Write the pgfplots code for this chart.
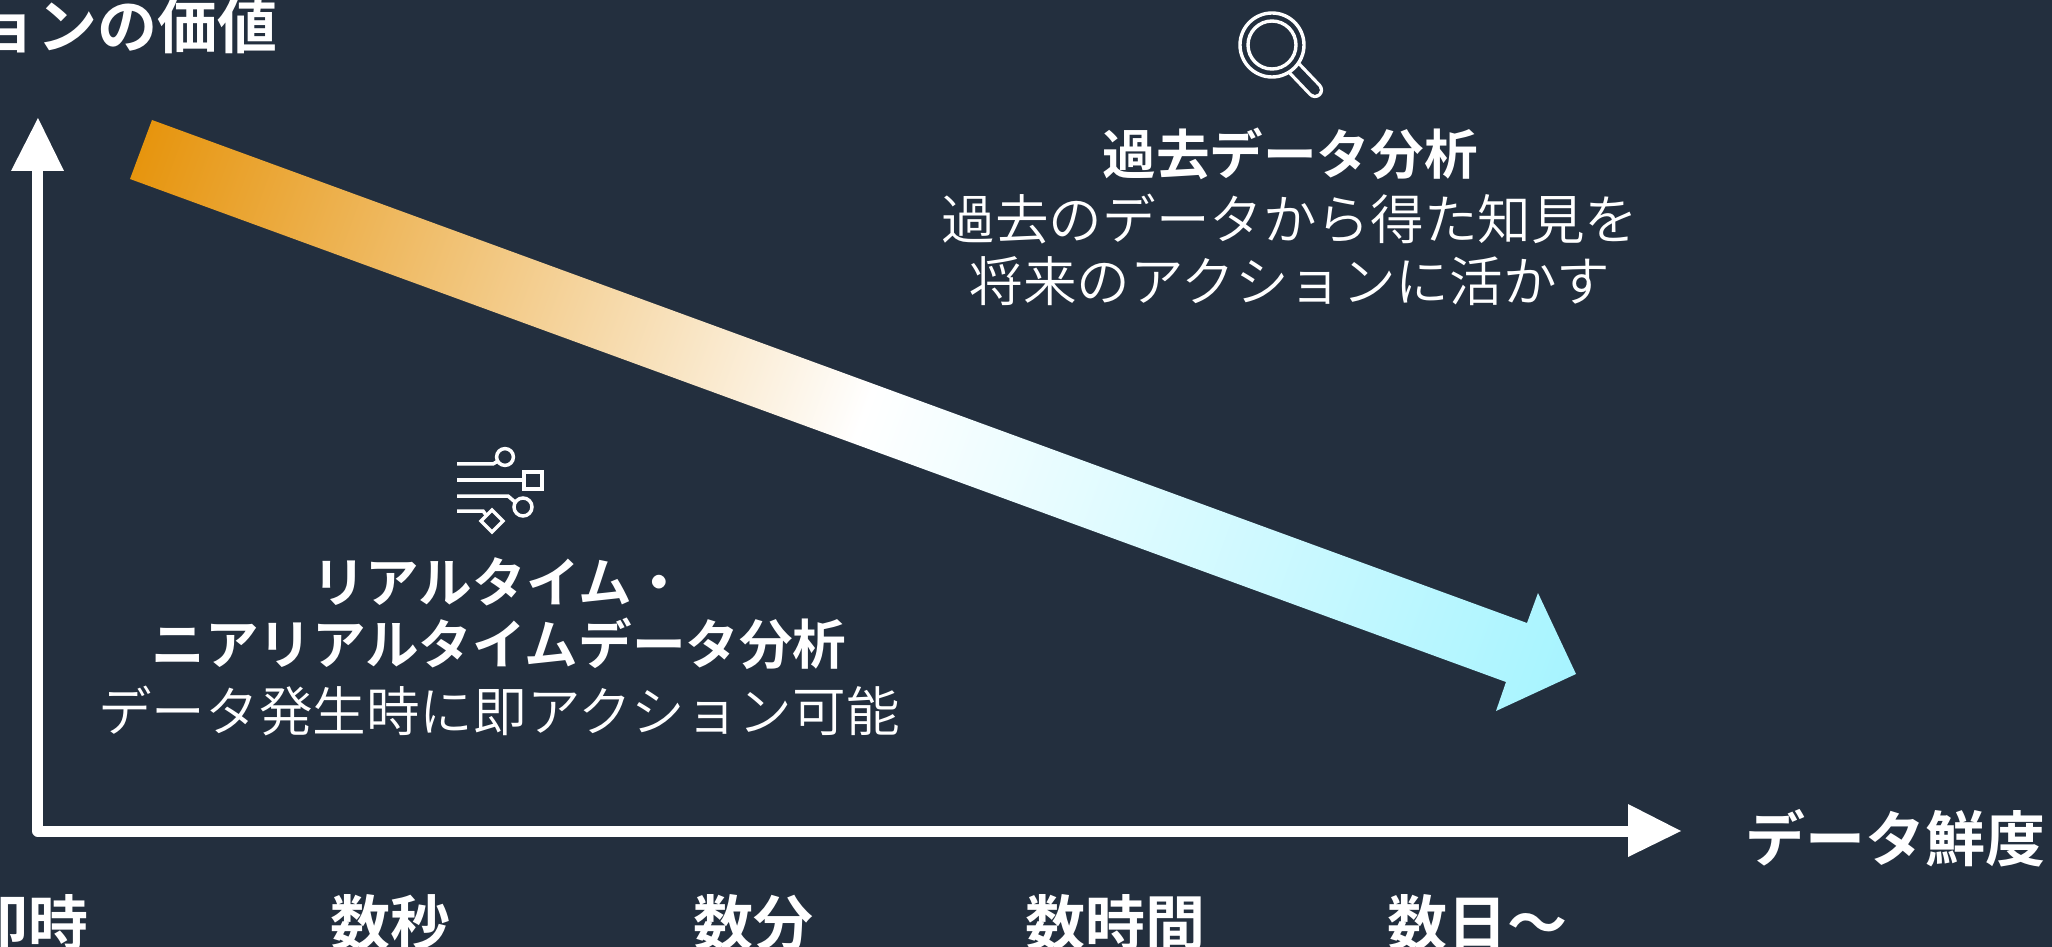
\documentclass[border=0pt]{standalone}
\usepackage{pgfplots}
\pgfplotsset{compat=1.18}
\usepackage{fontspec}
\setmainfont{Noto Sans CJK JP DemiLight}
\newfontfamily\jpbold{Noto Sans CJK JP Bold}
\definecolor{navy}{HTML}{232F3E}
\definecolor{amber}{HTML}{E6930A}
\definecolor{ice}{HTML}{A6F4FF}
% Orange to white to pale cyan along the diagonal arrow
\pgfdeclarehorizontalshading{freshness}{100bp}{color(0bp)=(amber); color(18.2bp)=(amber); color(50.4bp)=(white); color(81.8bp)=(ice); color(100bp)=(ice)}
\newcommand{\head}[1]{\fontsize{30pt}{34pt}\selectfont\jpbold #1}
\newcommand{\sub}[1]{\fontsize{26.8pt}{31pt}\selectfont\jpbold #1}
\newcommand{\body}[1]{\fontsize{26.8pt}{31pt}\selectfont #1}
\begin{document}
\begin{tikzpicture}
\path[use as bounding box] (0,0) rectangle (1026pt,473.5pt);
\clip (0,0) rectangle (1026pt,473.5pt);
\fill[navy] (0,0) rectangle (1026pt,473.5pt);
\begin{axis}[
  at={(14pt,58pt)}, anchor=south west,
  scale only axis, width=826.5pt, height=356.5pt,
  xmin=28, xmax=1681, ymin=118, ymax=831, y dir=reverse,
  clip=false,
  axis line style={draw=none}, tick style={draw=none},
  ytick=\empty,
  xtick={29,391,753,1115,1477},
  xticklabels={即時,数秒,数分,数時間,数日〜},
  xticklabel style={anchor=center, yshift=-46pt, font=\fontsize{30pt}{34pt}\selectfont\jpbold, text=white},
]
% Gradient arrow
\addplot[draw=none, shade, shading=freshness, shading angle=-20] coordinates {
  (152,120) (1527,623) (1538,593) (1576,674) (1496,711) (1506,682) (130,179)} -- cycle;
% Axes
\addplot[white, line width=5.5pt, line join=round] coordinates {(38,171) (38,831) (1630,831)};
\addplot[white, fill=white, draw=none] coordinates {(38,118) (64,171) (11,171)} -- cycle;
\addplot[white, fill=white, draw=none] coordinates {(1681,831) (1628,857) (1628,804)} -- cycle;
% Axis titles
\node[anchor=east, text=white, inner sep=0pt] at (axis cs:278,26) {\head{アクションの価値}};
\node[text=white, inner sep=0pt] at (axis cs:1895,838) {\head{データ鮮度}};
% Region captions
\node[text=white, inner sep=0pt] at (axis cs:1290,154) {\sub{過去データ分析}};
\node[text=white, inner sep=0pt] at (axis cs:1290,219) {\body{過去のデータから得た知見を}};
\node[text=white, inner sep=0pt] at (axis cs:1290,281) {\body{将来のアクションに活かす}};
\node[text=white, inner sep=0pt] at (axis cs:499,582) {\sub{リアルタイム・}};
\node[text=white, inner sep=0pt] at (axis cs:499,644) {\sub{ニアリアルタイムデータ分析}};
\node[text=white, inner sep=0pt] at (axis cs:499,711) {\body{データ発生時に即アクション可能}};
% Magnifier icon
\draw[white, line width=8.15pt, line cap=round] (axis cs:1295,69) -- (axis cs:1315,90);
\draw[navy, line width=4.85pt, line cap=round] (axis cs:1295,69) -- (axis cs:1315,90);
\fill[navy] (axis cs:1272,45) circle (16pt);
\draw[white, line width=1.7pt] (axis cs:1272,45) circle (16pt);
\draw[white, line width=1.7pt] (axis cs:1272,45) circle (12pt);
% Stream icon
\begin{scope}[white, line width=1.75pt]
\draw (axis cs:457,464) -- (axis cs:493,464) -- (axis cs:498,461);
\draw (axis cs:505,457) circle (4.2pt);
\draw (axis cs:457,480) -- (axis cs:524,480);
\draw (axis cs:524,472) rectangle (axis cs:542,489);
\draw (axis cs:457,496) -- (axis cs:508,496) -- (axis cs:515,502);
\draw (axis cs:523,507) circle (4.5pt);
\draw (axis cs:457,511) -- (axis cs:483,511) -- (axis cs:486,515);
\draw (axis cs:492,510) -- (axis cs:503,521) -- (axis cs:492,532) -- (axis cs:481,521) -- cycle;
\end{scope}
\end{axis}
\end{tikzpicture}
\end{document}
